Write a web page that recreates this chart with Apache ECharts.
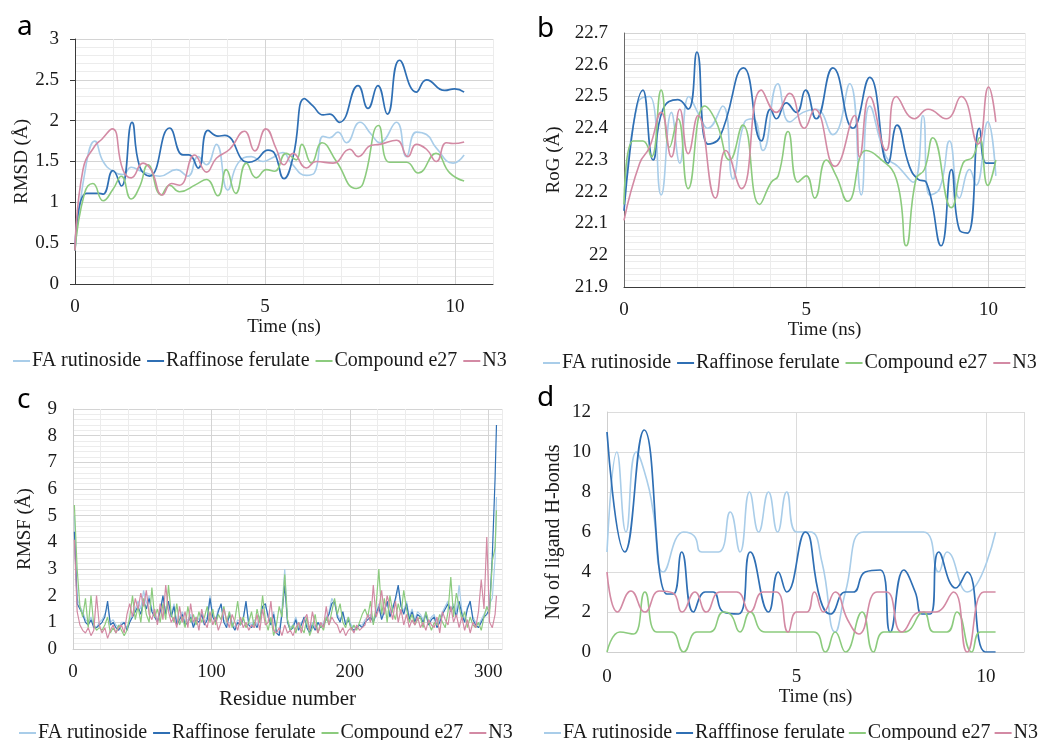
<!DOCTYPE html>
<html>
<head>
<meta charset="utf-8">
<script src="https://cdn.jsdelivr.net/npm/echarts@6/dist/echarts.min.js"></script>
<style>
  html, body { margin: 0; padding: 0; background: #fff; }
  #chart { width: 1046px; height: 740px; }
</style>
</head>
<body>
<div id="chart"></div>
<script>
// ---- panel a: RMSD (Å) vs time (ns) ----
const rmsdFA = [[0,0.41],[0.3,1.48],[0.52,1.75],[0.74,1.5],[1.0,1.38],[1.26,1.34],[1.48,1.43],[1.75,1.38],[2.23,1.32],[2.67,1.4],[2.97,1.32],[3.24,1.56],[3.46,1.46],[3.72,1.71],[4.02,1.15],[4.29,1.48],[4.64,1.56],[4.95,1.5],[5.17,1.54],[5.47,1.61],[5.69,1.48],[6.09,1.33],[6.3,1.36],[6.53,1.81],[6.7,1.79],[6.92,1.86],[7.14,1.73],[7.5,1.98],[7.8,1.83],[8.02,1.73],[8.46,1.98],[8.72,1.56],[8.98,1.86],[9.25,1.83],[9.5,1.67],[9.95,1.48],[10.24,1.58]];
const rmsdRaff = [[0,0.41],[0.3,1.11],[0.65,1.11],[0.74,1.1],[1.0,1.39],[1.22,1.2],[1.5,1.98],[1.7,1.44],[1.96,1.32],[2.49,1.91],[2.84,1.58],[3.0,1.58],[3.24,1.42],[3.5,1.88],[3.76,1.81],[3.94,1.82],[4.55,1.49],[4.77,1.52],[5.08,1.64],[5.25,1.6],[5.5,1.29],[5.74,1.56],[6.04,2.27],[6.26,2.18],[6.53,2.07],[6.7,2.08],[6.96,1.98],[7.45,2.43],[7.71,2.15],[7.97,2.43],[8.22,2.08],[8.54,2.74],[8.98,2.35],[9.25,2.5],[9.73,2.37],[9.99,2.39],[10.24,2.35]];
const rmsdE27 = [[0,0.41],[0.25,1.11],[0.47,1.23],[0.74,1.02],[1.0,1.16],[1.22,1.32],[1.48,1.04],[1.7,1.19],[1.92,1.46],[2.27,1.09],[2.49,1.21],[2.75,1.13],[3.19,1.22],[3.46,1.28],[3.76,1.08],[3.98,1.4],[4.23,1.11],[4.51,1.48],[4.77,1.3],[5.04,1.4],[5.25,1.38],[5.56,1.6],[5.82,1.52],[5.97,1.71],[6.22,1.48],[6.5,1.73],[6.88,1.5],[7.4,1.17],[7.58,1.23],[7.99,1.94],[8.28,1.49],[8.72,1.49],[9.03,1.36],[9.5,1.6],[9.86,1.36],[10.24,1.26]];
const rmsdN3 = [[0,0.41],[0.21,1.4],[0.52,1.69],[0.7,1.77],[0.98,1.9],[1.26,1.4],[1.48,1.3],[1.79,1.48],[2.0,1.4],[2.3,1.09],[2.54,1.23],[2.75,1.21],[3.15,1.58],[3.46,1.37],[3.72,1.54],[4.07,1.65],[4.46,1.87],[4.73,1.63],[5.02,1.9],[5.3,1.65],[5.5,1.46],[5.74,1.6],[6.09,1.42],[6.35,1.5],[6.79,1.48],[7.23,1.65],[7.45,1.56],[7.8,1.7],[8.02,1.71],[8.46,1.76],[8.76,1.56],[8.98,1.71],[9.25,1.65],[9.51,1.5],[9.77,1.73],[9.95,1.72],[10.24,1.74]];

// ---- panel b: RoG (Å) vs time (ns) ----
const rogFA = [[0,22.16],[0.38,22.48],[0.7,22.5],[1.02,22.19],[1.3,22.45],[1.53,22.29],[1.78,22.5],[2.07,22.44],[2.3,22.4],[2.71,22.47],[2.99,22.24],[3.31,22.42],[3.54,22.43],[3.81,22.33],[4.22,22.54],[4.54,22.42],[4.91,22.45],[5.27,22.46],[5.73,22.38],[6.19,22.54],[6.51,22.19],[6.74,22.47],[7.19,22.31],[7.51,22.28],[7.93,22.23],[8.2,22.44],[8.38,22.19],[8.66,22.21],[8.93,22.36],[9.2,22.18],[9.48,22.27],[9.66,22.22],[9.98,22.42],[10.2,22.25]];
const rogRaff = [[0,22.14],[0.52,22.52],[0.8,22.3],[1.07,22.46],[1.48,22.49],[1.76,22.46],[2.0,22.64],[2.3,22.35],[2.62,22.37],[3.28,22.59],[3.77,22.36],[4.02,22.46],[4.18,22.43],[4.45,22.48],[4.73,22.45],[4.98,22.52],[5.27,22.43],[5.73,22.59],[6.28,22.4],[6.74,22.56],[7.24,22.29],[7.49,22.41],[7.83,22.28],[8.06,22.24],[8.29,22.23],[8.7,22.03],[8.98,22.27],[9.2,22.08],[9.43,22.07],[9.75,22.4],[9.94,22.29],[10.18,22.29]];
const rogE27 = [[0,22.16],[0.25,22.36],[0.52,22.36],[0.75,22.31],[1.02,22.52],[1.25,22.34],[1.48,22.43],[1.76,22.21],[2.21,22.47],[2.53,22.42],[2.9,22.3],[3.26,22.41],[3.72,22.16],[4.04,22.23],[4.23,22.25],[4.5,22.39],[4.77,22.23],[5.0,22.25],[5.23,22.18],[5.55,22.3],[5.82,22.25],[6.14,22.17],[6.64,22.33],[6.97,22.31],[7.47,22.24],[7.74,22.03],[8.01,22.24],[8.24,22.27],[8.47,22.37],[8.98,22.15],[9.3,22.29],[9.57,22.31],[9.75,22.37],[9.98,22.22],[10.2,22.3]];
const rogN3 = [[0,22.11],[0.43,22.29],[0.7,22.34],[1.02,22.45],[1.3,22.31],[1.53,22.46],[1.76,22.32],[2.03,22.44],[2.51,22.18],[2.79,22.33],[3.22,22.21],[3.77,22.52],[4.18,22.45],[4.54,22.51],[4.95,22.4],[5.23,22.46],[5.79,22.28],[6.33,22.44],[6.46,22.31],[6.74,22.5],[7.19,22.33],[7.47,22.5],[7.97,22.43],[8.34,22.46],[8.84,22.43],[9.25,22.5],[9.71,22.35],[10.0,22.53],[10.2,22.42]];

// ---- panel c: RMSF (Å) per residue (every 2nd residue, plus last one) ----
const residues = [];
for (let r = 1; r <= 305; r += 2) residues.push(r);
residues.push(306);
const rmsfFA = [
  5.0,1.9,1.6,1.4,1.1, 1.0,1.2,0.9,0.8,1.0, 1.1,1.3,1.6,1.0,1.1, 0.9,0.8,1.0,1.0,0.8,
  1.1,1.3,1.5,1.8,1.5, 2.2,1.7,2.0,1.5,1.3, 1.1,1.5,1.9,1.4,1.7, 1.3,1.7,1.0,1.2,1.4,
  1.0,1.1,1.3,0.9,1.2, 1.1,1.4,1.0,1.2,2.0, 1.3,1.1,1.5,1.6,1.1, 0.9,1.4,1.0,0.8,1.1,
  1.0,1.2,1.7,1.0,0.9, 1.1,0.9,1.2,1.5,1.6, 1.3,1.0,1.4,0.7,0.6, 1.5,3.0,1.1,0.8,0.9,
  1.2,0.8,1.0,1.1,0.9, 0.7,1.0,0.8,1.0,0.9, 1.0,1.2,1.4,1.9,1.7, 1.3,1.1,1.3,1.0,1.2,
  0.9,0.8,0.8,0.9,0.9, 1.1,1.2,1.3,1.1,1.4, 1.7,1.2,1.5,1.7,1.3, 1.6,1.8,2.3,1.7,1.4,
  1.8,1.2,1.5,1.1,1.4, 1.3,1.1,1.4,1.0,1.2, 1.3,0.9,1.1,1.4,1.6, 1.8,1.5,1.7,1.4,2.4,
  1.4,1.1,1.6,1.7,1.2, 1.0,0.9,1.1,1.3,1.5, 1.7,1.9,3.4, 5.7];
const rmsfRaff = [
  4.4,1.7,1.5,1.3,1.0, 0.9,1.1,0.8,0.8,0.9, 1.0,1.2,1.8,0.9,1.0, 0.8,0.7,0.9,1.0,0.7,
  1.0,1.2,1.4,1.6,1.3, 1.8,1.5,1.9,1.4,1.2, 1.0,1.4,2.0,1.3,1.8, 1.2,1.6,0.9,1.1,1.3,
  0.9,1.0,1.2,0.8,1.1, 1.0,1.3,0.9,1.1,1.9, 1.2,1.0,1.4,1.7,1.0, 0.8,1.3,0.9,0.7,1.0,
  0.9,1.1,1.8,0.9,0.8, 1.0,0.8,1.1,1.6,1.7, 1.2,0.9,1.3,0.6,0.5, 1.3,2.4,1.0,0.7,0.8,
  1.1,0.7,0.9,1.2,0.8, 0.6,0.9,0.7,1.0,0.8, 0.9,1.1,1.3,1.7,1.8, 1.2,1.0,1.4,0.9,1.1,
  0.8,0.7,0.8,0.9,0.8, 1.0,1.1,1.2,1.0,1.3, 1.6,1.1,1.4,1.8,1.2, 1.5,1.9,2.4,1.6,1.3,
  1.7,1.1,1.4,1.0,1.3, 1.2,1.0,1.3,0.9,1.1, 1.2,0.8,1.0,1.3,1.5, 1.7,1.4,1.6,1.2,1.8,
  1.3,1.0,1.5,1.8,1.1, 0.9,0.8,1.0,1.2,1.3, 1.5,3.5,6.4, 8.4];
const rmsfE27 = [
  5.4,3.0,1.6,1.2,1.9, 0.8,2.0,0.9,0.7,0.8, 0.7,0.9,1.2,0.6,0.8, 0.6,0.9,0.7,0.5,0.7,
  1.2,2.0,1.1,1.6,1.0, 1.9,1.3,1.0,2.3,1.2, 1.5,1.0,1.7,1.1,2.4, 1.3,1.0,1.7,0.9,1.2,
  0.8,1.6,1.0,1.3,0.9, 1.4,1.0,1.2,1.6,1.0, 1.5,0.9,1.3,1.1,1.6, 1.0,1.4,0.8,1.1,1.8,
  0.9,1.2,0.8,1.0,1.4, 0.8,1.5,1.0,2.0,1.1, 0.7,1.2,0.5,0.9,1.6, 1.2,2.8,1.1,0.7,0.9,
  0.6,1.0,0.8,0.6,1.2, 0.5,0.8,1.3,0.6,0.9, 0.7,1.2,0.9,1.4,1.9, 1.3,1.7,1.0,0.8,1.2,
  0.7,0.9,0.7,1.0,1.3, 1.5,1.2,1.8,0.9,1.6, 3.0,1.3,1.9,1.0,2.0, 1.4,1.1,1.7,1.3,2.2,
  1.5,1.0,1.3,0.9,1.1, 1.2,0.8,1.4,1.0,0.7, 1.0,0.9,1.3,1.0,0.8, 1.4,2.7,1.2,2.1,1.6,
  1.1,1.4,0.8,1.2,0.9, 0.8,1.0,0.7,1.2,1.6, 1.3,3.3,3.8, 5.2];
const rmsfN3 = [
  4.1,1.4,0.9,0.7,0.6, 0.8,0.5,0.7,2.0,0.9, 0.6,0.8,0.4,0.7,0.9, 0.6,0.8,0.9,0.6,1.3,
  1.7,1.2,1.9,1.5,2.1, 1.6,2.2,1.3,1.1,1.5, 0.9,1.7,1.1,2.4,1.4, 1.0,1.2,0.8,1.6,1.0,
  1.4,0.8,1.7,1.0,1.2, 0.7,1.5,1.0,0.8,1.4, 0.9,1.2,0.7,1.0,1.5, 1.1,0.8,1.3,1.0,0.7,
  1.2,0.8,1.0,0.7,0.9, 0.8,1.3,0.7,1.5,0.9, 1.0,1.8,0.7,0.6,0.8, 0.5,0.9,0.6,0.7,0.5,
  0.8,1.0,0.6,1.1,1.3, 0.7,1.4,0.9,0.6,1.0, 0.8,1.6,0.9,1.2,1.0, 0.9,0.6,0.8,0.5,0.7,
  0.8,0.6,0.9,0.7,0.8, 0.9,1.3,1.0,2.4,1.2, 1.5,2.2,1.3,2.0,1.6, 1.1,1.8,1.0,1.5,0.9,
  1.3,0.8,1.1,0.9,1.2, 0.8,1.0,0.7,1.1,0.9, 0.8,1.2,0.6,1.4,1.1, 0.9,1.6,1.0,1.3,0.8,
  1.2,0.7,1.1,0.6,1.0, 0.8,1.4,2.6,1.5,4.2, 1.0,0.8,1.3, 2.0];

// ---- panel d: number of ligand H-bonds vs time (ns) ----
const hbFA = [[0,5],[0.26,10],[0.5,6],[0.77,10],[1.05,8.6],[1.22,7],[1.49,4],[2.02,6],[2.3,5.8],[2.5,5],[2.94,5],[3.25,7],[3.51,5],[3.76,8],[4.0,6],[4.26,8],[4.5,6],[4.74,8],[5.0,6],[5.36,6],[5.67,4.5],[6.02,1],[6.29,3],[6.77,6],[7.39,6],[8.35,6],[8.75,4],[8.97,5],[9.5,3],[10.25,6]];
const hbRaff = [[0,11],[0.47,5],[0.98,11.1],[1.58,2.9],[1.75,2.9],[1.97,5],[2.28,2],[2.59,3],[2.8,3],[3.07,2],[3.47,1.9],[3.78,5],[4.26,2],[4.52,4],[4.74,3],[5.23,6],[5.63,2.6],[5.89,1.9],[6.29,3],[6.5,3],[6.81,4],[7.21,4.1],[7.47,1],[7.83,4.1],[8.13,3],[8.31,1.9],[8.53,1.9],[8.75,5],[9.2,3.2],[9.5,4],[9.98,0],[10.25,0]];
const hbE27 = [[0,0],[0.34,1],[0.7,0.9],[1.0,3],[1.31,1],[1.7,1],[2.02,0],[2.37,1],[2.72,1],[3.07,2],[3.25,1.9],[3.51,1],[3.78,2],[4.17,1],[5.45,1],[5.76,0],[6.02,1],[6.29,0],[6.73,2],[7.03,0],[7.3,1],[7.83,1],[8.35,2],[8.62,1],[8.97,1],[9.23,2],[9.62,0],[9.85,1],[10.25,1]];
const hbN3 = [[0,4],[0.28,2],[0.63,3.05],[1.0,2],[1.38,3.05],[1.74,2.95],[1.98,2],[2.32,3],[2.62,2],[2.98,3],[3.42,3],[3.77,2],[4.12,3],[4.47,3],[4.78,1],[5.0,2],[5.27,2],[5.47,3],[5.71,2],[6.02,3],[6.35,1.6],[6.64,0.9],[7.12,3],[7.38,3],[7.78,1],[8.27,2],[8.66,2],[9.14,3],[9.5,0],[9.94,3],[10.25,3]];

const seriesNames = ['FA rutinoside', 'Raffinose ferulate', 'Compound e27', 'N3'];
const seriesNamesD = ['FA rutinoside', 'Rafffinose ferulate', 'Compound e27', 'N3'];
const colors = ['#a9cde9', '#2f6fb4', '#8ccb7e', '#d38aa4'];

const serif = '"Liberation Serif", "Times New Roman", serif';
const textColor = '#1a1a1a';

function line(name, data, color, idx, width, smooth) {
  return {
    name: name,
    type: 'line',
    xAxisIndex: idx,
    yAxisIndex: idx,
    data: data,
    smooth: smooth,
    symbol: 'none',
    showSymbol: false,
    lineStyle: { color: color, width: width },
    itemStyle: { color: color },
    emphasis: { disabled: true }
  };
}

function label(size, margin, fmt, hideMax) {
  const l = { fontFamily: serif, fontSize: size, color: textColor, margin: margin };
  if (fmt) l.formatter = fmt;
  if (hideMax) l.showMaxLabel = false;
  return l;
}

function nameStyle(size) {
  return { fontFamily: serif, fontSize: size, color: textColor };
}

function legend(left, top, names, gap) {
  return {
    left: left,
    top: top,
    width: 540,
    orient: 'horizontal',
    data: names,
    icon: 'rect',
    itemWidth: 17,
    itemHeight: 2,
    itemGap: gap,
    selectedMode: false,
    textStyle: { fontFamily: serif, fontSize: 20, color: textColor, padding: [0, 0, 0, -3] }
  };
}

const minorCycle5 = ['#d4d4d4', '#ececec', '#ececec', '#ececec', '#ececec'];
const mult = (n) => (v) => (v % n === 0 ? String(v) : '');

const chart = echarts.init(document.getElementById('chart'));

const letterFont = '28px "Noto Sans"';

const option = {
  animation: false,
  backgroundColor: '#fff',
  graphic: [
    { type: 'text', left: 17, top: 13, style: { text: 'a', font: letterFont, fill: '#000' } },
    { type: 'text', left: 537, top: 15, style: { text: 'b', font: letterFont, fill: '#000' } },
    { type: 'text', left: 17, top: 386, style: { text: 'c', font: letterFont, fill: '#000' } },
    { type: 'text', left: 537, top: 384, style: { text: 'd', font: letterFont, fill: '#000' } }
  ],
  grid: [
    { left: 75, top: 39, width: 418, height: 245 },
    { left: 624, top: 33, width: 401, height: 254 },
    { left: 73, top: 409, width: 429, height: 240 },
    { left: 607, top: 412, width: 417, height: 240 }
  ],
  legend: [
    legend(8, 346, seriesNames, 6),
    legend(538, 348, seriesNames, 6),
    legend(14, 718, seriesNames, 6),
    legend(539, 718, seriesNamesD, 4)
  ],
  xAxis: [
    {
      gridIndex: 0, type: 'value', min: 0, max: 11, interval: 1,
      name: 'Time (ns)', nameLocation: 'middle', nameGap: 31, nameTextStyle: nameStyle(19),
      axisLine: { show: true, lineStyle: { color: '#3a3a3a' } },
      axisTick: { show: false },
      axisLabel: label(19, 14, mult(5), true),
      splitLine: { show: true, lineStyle: { color: minorCycle5 } }
    },
    {
      gridIndex: 1, type: 'value', min: 0, max: 11, interval: 1,
      name: 'Time (ns)', nameLocation: 'middle', nameGap: 30, nameTextStyle: nameStyle(19),
      axisLine: { show: true, lineStyle: { color: '#3a3a3a' } },
      axisTick: { show: false },
      axisLabel: label(19, 14, mult(5), true),
      splitLine: { show: true, lineStyle: { color: minorCycle5 } }
    },
    {
      gridIndex: 2, type: 'value', min: 0, max: 310, interval: 20,
      name: 'Residue number', nameLocation: 'middle', nameGap: 40, nameTextStyle: nameStyle(21),
      axisLine: { show: true, lineStyle: { color: '#cfcfcf' } },
      axisTick: { show: false },
      axisLabel: label(19, 14, mult(100), true),
      splitLine: { show: true, lineStyle: { color: minorCycle5 } }
    },
    {
      gridIndex: 3, type: 'value', min: 0, max: 11, interval: 5,
      name: 'Time (ns)', nameLocation: 'middle', nameGap: 35, nameTextStyle: nameStyle(19),
      axisLine: { show: true, lineStyle: { color: '#cfcfcf' } },
      axisTick: { show: false },
      axisLabel: label(19, 16, mult(5), true),
      splitLine: { show: true, lineStyle: { color: '#dcdcdc' } }
    }
  ],
  yAxis: [
    {
      gridIndex: 0, type: 'value', min: 0, max: 3, interval: 0.5,
      name: 'RMSD (Å)', nameLocation: 'middle', nameGap: 42, nameTextStyle: nameStyle(19),
      axisLine: { show: true, lineStyle: { color: '#3a3a3a' } },
      axisTick: { show: true, length: 5, lineStyle: { color: '#3a3a3a' } },
      axisLabel: label(19, 16),
      splitLine: { show: true, lineStyle: { color: '#d4d4d4' } },
      minorTick: { show: false, splitNumber: 5 },
      minorSplitLine: { show: true, lineStyle: { color: '#ececec' } }
    },
    {
      gridIndex: 1, type: 'value', min: 21.9, max: 22.7, interval: 0.1,
      name: 'RoG (Å)', nameLocation: 'middle', nameGap: 60, nameTextStyle: nameStyle(19),
      axisLine: { show: true, lineStyle: { color: '#6a6a6a' } },
      axisTick: { show: false },
      axisLabel: label(19, 16, (v) => String(Math.round(v * 10) / 10)),
      splitLine: { show: true, lineStyle: { color: '#d4d4d4' } },
      minorTick: { show: false, splitNumber: 5 },
      minorSplitLine: { show: true, lineStyle: { color: '#ececec' } }
    },
    {
      gridIndex: 2, type: 'value', min: 0, max: 9, interval: 1,
      name: 'RMSF (Å)', nameLocation: 'middle', nameGap: 38, nameTextStyle: nameStyle(19),
      axisLine: { show: true, lineStyle: { color: '#cfcfcf' } },
      axisTick: { show: false },
      axisLabel: label(19, 16),
      splitLine: { show: true, lineStyle: { color: '#d4d4d4' } },
      minorTick: { show: false, splitNumber: 5 },
      minorSplitLine: { show: true, lineStyle: { color: '#ececec' } }
    },
    {
      gridIndex: 3, type: 'value', min: 0, max: 12, interval: 2,
      name: 'No of ligand H-bonds', nameLocation: 'middle', nameGap: 43, nameTextStyle: nameStyle(20),
      axisLine: { show: true, lineStyle: { color: '#cfcfcf' } },
      axisTick: { show: false },
      axisLabel: label(19, 16),
      splitLine: { show: true, lineStyle: { color: '#dcdcdc' } }
    }
  ],
  series: [
    line(seriesNames[0], rmsdFA, colors[0], 0, 1.6, true),
    line(seriesNames[1], rmsdRaff, colors[1], 0, 1.7, true),
    line(seriesNames[2], rmsdE27, colors[2], 0, 1.6, true),
    line(seriesNames[3], rmsdN3, colors[3], 0, 1.6, true),

    line(seriesNames[0], rogFA, colors[0], 1, 1.6, true),
    line(seriesNames[1], rogRaff, colors[1], 1, 1.7, true),
    line(seriesNames[2], rogE27, colors[2], 1, 1.6, true),
    line(seriesNames[3], rogN3, colors[3], 1, 1.6, true),

    line(seriesNames[0], residues.map((r, i) => [r, rmsfFA[i]]), colors[0], 2, 1.2, false),
    line(seriesNames[1], residues.map((r, i) => [r, rmsfRaff[i]]), colors[1], 2, 1.2, false),
    line(seriesNames[2], residues.map((r, i) => [r, rmsfE27[i]]), colors[2], 2, 1.2, false),
    line(seriesNames[3], residues.map((r, i) => [r, rmsfN3[i]]), colors[3], 2, 1.2, false),

    line(seriesNamesD[0], hbFA, colors[0], 3, 1.6, true),
    line(seriesNamesD[1], hbRaff, colors[1], 3, 1.7, true),
    line(seriesNamesD[2], hbE27, colors[2], 3, 1.6, true),
    line(seriesNamesD[3], hbN3, colors[3], 3, 1.6, true)
  ]
};

chart.setOption(option);
</script>
</body>
</html>
